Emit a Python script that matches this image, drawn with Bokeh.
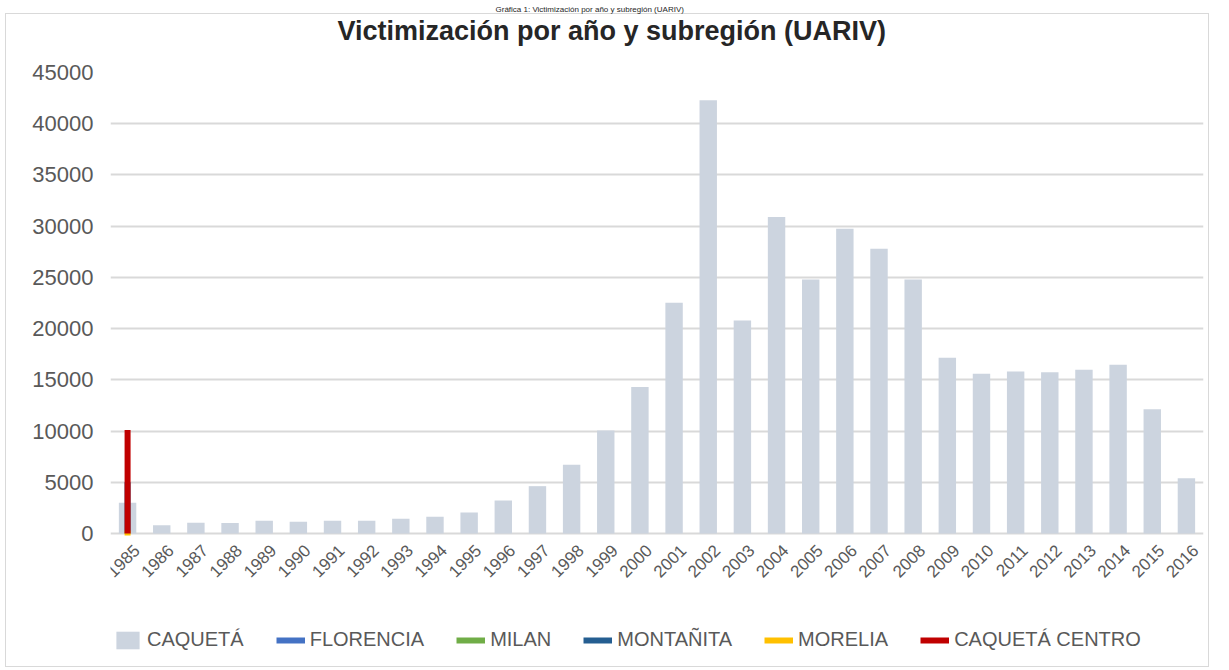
from bokeh.plotting import figure
from bokeh.models import (FactorRange, Range1d, Legend, LegendItem, Title,
                          FixedTicker, ColumnDataSource)
from bokeh.core.properties import value
from bokeh.embed import file_html
from bokeh.resources import INLINE
import math

# ---------------- data ----------------
years = ["1985", "1986", "1987", "1988", "1989", "1990", "1991", "1992",
         "1993", "1994", "1995", "1996", "1997", "1998", "1999", "2000",
         "2001", "2002", "2003", "2004", "2005", "2006", "2007", "2008",
         "2009", "2010", "2011", "2012", "2013", "2014", "2015", "2016"]

caqueta = [3000, 810, 1040, 1030, 1240, 1140, 1240, 1240, 1440, 1630,
           2050, 3220, 4620, 6710, 10060, 14290, 22530, 42290, 20800, 30890,
           24800, 29750, 27800, 24800, 17160, 15600, 15820, 15750, 15980,
           16470, 12140, 5400]

# line series (all collapsed on the first category in the original chart)
line_x = ["1985", "1985"]
florencia = [0, 0]
milan = [0, 0]
montanita = [0, 5000]
morelia = [-200, 300]
caqueta_centro = [0, 10100]

series_names = ["FLORENCIA", "MILAN", "MONTAÑITA", "MORELIA", "CAQUETÁ CENTRO"]
series_values = [florencia, milan, montanita, morelia, caqueta_centro]
series_colors = ["#4472C4", "#70AD47", "#255E91", "#FFC000", "#C00000"]

y_ticks = [0, 5000, 10000, 15000, 20000, 25000, 30000, 35000, 40000, 45000]

title_text = "Victimización por año y subregión (UARIV)"
caption_text = "Gráfica 1: Victimización por año y subregión (UARIV)"

# ---------------- layout ----------------
W, H = 1214, 668
frame_top, frame_bottom = 72, 660
zero_px = 533
y_top = y_ticks[-1]
y_bottom = -(frame_bottom - zero_px) / (zero_px - frame_top) * y_top

box = "#D9D9D9"
chart_box = {
    "background-image": ", ".join([f"linear-gradient({box}, {box})"] * 4),
    "background-size": "1204px 1px, 1px 654px, 1px 654px, 1204px 1px",
    "background-position": "5px 13px, 5px 13px, 1208px 13px, 5px 666px",
    "background-repeat": "no-repeat",
}

p = figure(width=W, height=H, x_range=FactorRange(*years, range_padding=0),
           y_range=Range1d(y_bottom, y_top), output_backend="svg",
           toolbar_location=None, min_border_left=110, min_border_right=W - 1203,
           min_border_top=frame_top, min_border_bottom=H - frame_bottom,
           styles=chart_box)
p.outline_line_color = None
p.background_fill_color = "white"
p.border_fill_alpha = 0

label_color = "#595959"
grid_color = "#D9D9D9"

src = ColumnDataSource(dict(x=years, top=caqueta))
bars = p.vbar(x="x", top="top", bottom=0, width=0.51, source=src,
              color="#CCD4DF", line_color=None)

line_renderers = []
for vals, col in zip(series_values, series_colors):
    r = p.line(x=line_x, y=vals, line_color=col, line_width=6)
    line_renderers.append(r)

# category labels (drawn at the zero line, rotated)
p.text(x=years, y=[0] * len(years), text=years, angle=math.pi / 4,
       text_align="right", text_baseline="middle", x_offset=9, y_offset=14,
       text_font=value("Liberation Sans"), text_font_size=value("17px"),
       text_color=label_color)

# axes
p.xaxis.visible = False
p.yaxis.ticker = FixedTicker(ticks=y_ticks)
p.yaxis.axis_line_color = None
p.yaxis.major_tick_line_color = None
p.yaxis.minor_tick_line_color = None
p.yaxis.major_tick_out = 0
p.yaxis.major_tick_in = 0
p.yaxis.major_label_text_font = "Liberation Sans"
p.yaxis.major_label_text_font_size = "22px"
p.yaxis.major_label_text_color = label_color
p.yaxis.major_label_standoff = 17

p.xgrid.grid_line_color = None
p.ygrid.grid_line_color = grid_color
p.ygrid.grid_line_width = 2

# titles: caption at the very top (outermost), main title, blank spacer
p.title = Title(text=caption_text, align="left", offset=385,
                text_font="Liberation Sans", text_font_style="normal",
                text_font_size="8px", text_color="#262626", standoff=0)
p.add_layout(Title(text=" ", text_font_size="10px", standoff=14), "above")
p.add_layout(Title(text=title_text, align="left", offset=227,
                   text_font="Liberation Sans", text_font_style="bold",
                   text_font_size="27px", text_color="#262626", standoff=0),
             "above")

items = [LegendItem(label="CAQUETÁ", renderers=[bars])]
for name, r in zip(series_names, line_renderers):
    items.append(LegendItem(label=name, renderers=[r]))

legend = Legend(items=items, orientation="horizontal", location=(3, 9),
                glyph_width=29, glyph_height=22, label_height=20,
                label_standoff=5, spacing=32,
                padding=0, margin=0, border_line_color=None,
                background_fill_alpha=0,
                label_text_font="Liberation Sans",
                label_text_font_size="20px", label_text_color=label_color)
p.add_layout(legend, "center")

open("out.html", "w").write(file_html(p, INLINE))
